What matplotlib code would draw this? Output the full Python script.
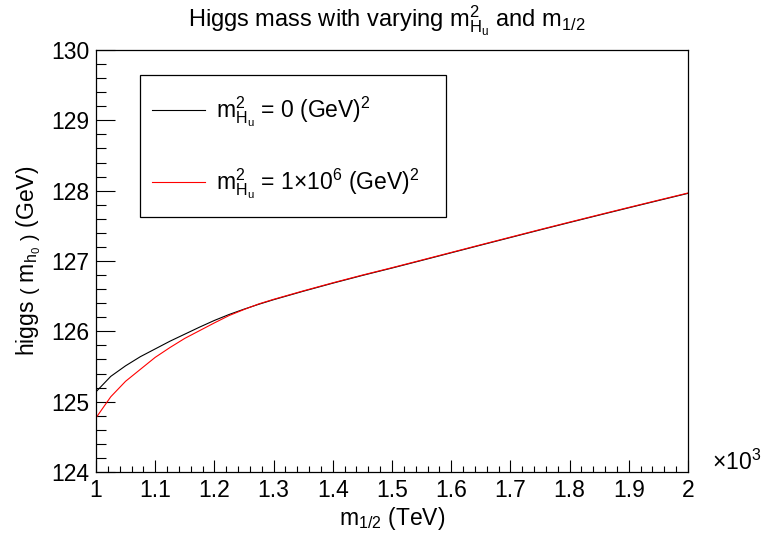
import numpy as np
import matplotlib
matplotlib.use("Agg")
import matplotlib.pyplot as plt
from matplotlib.patches import Rectangle
from matplotlib.ticker import MultipleLocator, FuncFormatter

plt.rcParams['font.family'] = ['Liberation Sans', 'DejaVu Sans']
plt.rcParams['mathtext.fontset'] = 'custom'
plt.rcParams['mathtext.rm'] = 'Liberation Sans'
plt.rcParams['mathtext.it'] = 'Liberation Sans'
plt.rcParams['mathtext.default'] = 'regular'

# ---------- data ---------- #
m_half = [1000, 1025, 1050, 1075, 1100, 1125, 1150, 1175, 1200, 1225, 1250,
          1275, 1300, 1350, 1400, 1450, 1500, 1550, 1600, 1650, 1700, 1750,
          1800, 1850, 1900, 1950, 2000]
mh_zero = [125.14, 125.36, 125.51, 125.64, 125.75, 125.86, 125.96, 126.06,
           126.155, 126.24, 126.315, 126.385, 126.45, 126.57, 126.685, 126.795,
           126.90, 127.008, 127.117, 127.226, 127.334, 127.442, 127.548,
           127.653, 127.757, 127.86, 127.962]
mh_1e6 = [124.77, 125.07, 125.29, 125.46, 125.63, 125.77, 125.90, 126.01,
          126.12, 126.225, 126.31, 126.39, 126.455, 126.575, 126.69, 126.80,
          126.905, 127.013, 127.122, 127.231, 127.339, 127.447, 127.553,
          127.658, 127.762, 127.865, 127.967]

fs = 16.5

fig = plt.figure(figsize=(7.63, 5.39), dpi=100)
ax = fig.add_axes([0.1258, 0.1243, 0.7759, 0.7829])

ax.plot(m_half, mh_zero, color='black', lw=0.8,
        label=r'$m^{2}_{H_{u}}$ = 0 (GeV)$^{2}$')
ax.plot(m_half, mh_1e6, color='#ff0000', lw=0.8,
        label=r'$m^{2}_{H_{u}}$ = 1$\times$10$^{6}$ (GeV)$^{2}$')

ax.set_xlim(1000, 2000)
ax.set_ylim(124, 130)

ax.xaxis.set_major_locator(MultipleLocator(100))
ax.xaxis.set_minor_locator(MultipleLocator(20))
ax.yaxis.set_major_locator(MultipleLocator(1))
ax.yaxis.set_minor_locator(MultipleLocator(0.2))
ax.xaxis.set_major_formatter(FuncFormatter(lambda v, p: '%g' % (v / 1000.0)))

ax.tick_params(axis='both', which='both', direction='in', top=False, right=False,
               labelsize=fs, width=0.8)
ax.tick_params(axis='y', which='major', length=14, pad=4.5)
ax.tick_params(axis='y', which='minor', length=7.5)
ax.tick_params(axis='x', which='major', length=9, pad=5)
ax.tick_params(axis='x', which='minor', length=4.5)
for s in ax.spines.values():
    s.set_linewidth(0.9)

ax.text(1.04, 0.024, r'$\times$10$^{3}$', transform=ax.transAxes,
        fontsize=fs, ha='left', va='center')

ax.set_xlabel(r'$m_{1/2}$ (TeV)', fontsize=fs, labelpad=2)
ax.set_ylabel(r'higgs $\left(\ m_{h_{0}}\ \right)$ (GeV)', fontsize=fs, labelpad=6)
fig.suptitle(r'Higgs mass with varying $m^{2}_{H_{u}}$ and $m_{1/2}$',
             fontsize=17, x=0.507, y=0.993)

# legend box drawn by hand, entries placed inside it
ax.add_patch(Rectangle((0.0743, 0.6043), 0.517, 0.3365, transform=ax.transAxes,
                       facecolor='white', edgecolor='black', lw=0.9, zorder=4))
leg = ax.legend(loc='center left', bbox_to_anchor=(0.0946, 0.7678),
                fontsize=fs, frameon=False, handlelength=2.3,
                labelspacing=1.62, borderpad=0, borderaxespad=0, handletextpad=0.5)
leg.set_zorder(5)

fig.savefig('out.png', dpi=100)
